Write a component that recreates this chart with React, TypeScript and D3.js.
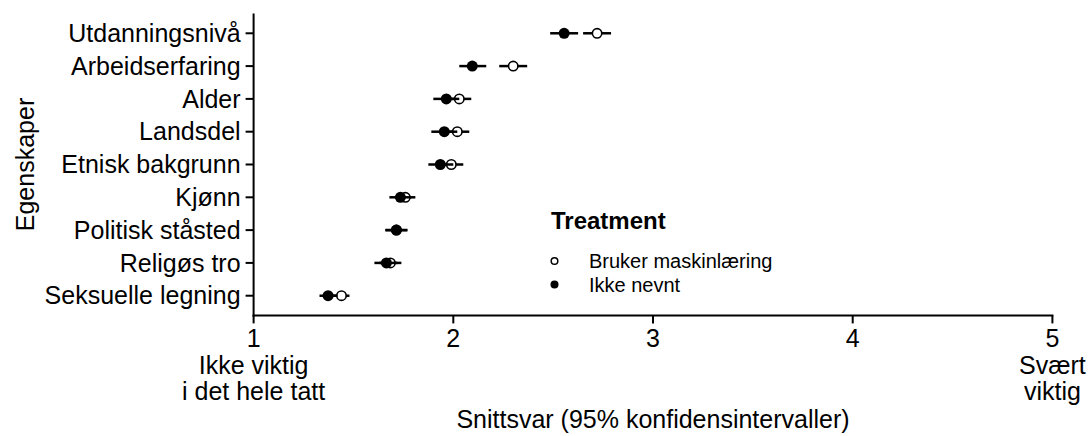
import { useEffect, useRef } from "react";
import * as d3 from "d3";

const WIDTH = 1088;
const HEIGHT = 436;

const categories = [
  "Utdanningsnivå",
  "Arbeidserfaring",
  "Alder",
  "Landsdel",
  "Etnisk bakgrunn",
  "Kjønn",
  "Politisk ståsted",
  "Religøs tro",
  "Seksuelle legning",
];

// "Bruker maskinlæring" (open circles)
const mlMean = [2.72, 2.3, 2.03, 2.02, 1.99, 1.76, 1.715, 1.685, 1.44];
const mlLow = [2.65, 2.23, 1.97, 1.96, 1.93, 1.71, 1.66, 1.63, 1.39];
const mlHigh = [2.79, 2.37, 2.09, 2.08, 2.05, 1.81, 1.77, 1.74, 1.48];

// "Ikke nevnt" (filled circles)
const noneMean = [2.555, 2.095, 1.965, 1.955, 1.935, 1.735, 1.715, 1.665, 1.373];
const noneLow = [2.485, 2.03, 1.9, 1.89, 1.875, 1.68, 1.66, 1.605, 1.33];
const noneHigh = [2.625, 2.165, 2.03, 2.02, 2.0, 1.79, 1.77, 1.72, 1.42];

const xTicks = [1, 2, 3, 4, 5];
const xTickLabels: Record<number, string[]> = {
  1: ["1", "Ikke viktig", "i det hele tatt"],
  2: ["2"],
  3: ["3"],
  4: ["4"],
  5: ["5", "Svært", "viktig"],
};

const seriesNames = ["Bruker maskinlæring", "Ikke nevnt"];

const FONT = "'Liberation Sans', Arial, Helvetica, sans-serif";

export default function App() {
  const svgRef = useRef<SVGSVGElement>(null);

  useEffect(() => {
    const svg = d3.select(svgRef.current);
    svg.selectAll("*").remove();

    const x = d3.scaleLinear().domain([1, 5]).range([253.6, 1052.4]);
    const y = d3.scalePoint().domain(categories).range([13.6, 315.4]).padding(0.6);

    const g = svg.append("g").attr("font-family", FONT);

    const series = [
      { mean: mlMean, low: mlLow, high: mlHigh, fill: "white" },
      { mean: noneMean, low: noneLow, high: noneHigh, fill: "black" },
    ];

    series.forEach((s) => {
      const rows = categories.map((c, i) => ({ c, m: s.mean[i], lo: s.low[i], hi: s.high[i] }));
      g.append("g")
        .selectAll("line")
        .data(rows)
        .join("line")
        .attr("x1", (d) => x(d.lo))
        .attr("x2", (d) => x(d.hi))
        .attr("y1", (d) => y(d.c)!)
        .attr("y2", (d) => y(d.c)!)
        .attr("stroke", "black")
        .attr("stroke-width", 2.5);
      g.append("g")
        .selectAll("circle")
        .data(rows)
        .join("circle")
        .attr("cx", (d) => x(d.m))
        .attr("cy", (d) => y(d.c)!)
        .attr("r", s.fill === "white" ? 4.7 : 5.5)
        .attr("fill", s.fill)
        .attr("stroke", "black")
        .attr("stroke-width", s.fill === "white" ? 1.6 : 0);
    });

    // y axis
    const [y0, y1] = y.range();
    g.append("line")
      .attr("x1", x(1)).attr("x2", x(1))
      .attr("y1", y0).attr("y2", y1 + 1)
      .attr("stroke", "black").attr("stroke-width", 2);
    const yt = g.append("g").selectAll("g").data(categories).join("g")
      .attr("transform", (d) => `translate(0,${y(d)})`);
    yt.append("line").attr("x1", x(1) - 8).attr("x2", x(1)).attr("stroke", "black").attr("stroke-width", 2);
    yt.append("text")
      .attr("x", x(1) - 13)
      .attr("dy", "0.35em")
      .attr("text-anchor", "end")
      .attr("font-size", 25)
      .attr("fill", "black")
      .text((d) => d);

    // x axis
    g.append("line")
      .attr("x1", x(1) - 1).attr("x2", x(5) + 1)
      .attr("y1", y1).attr("y2", y1)
      .attr("stroke", "black").attr("stroke-width", 2);
    const xt = g.append("g").selectAll("g").data(xTicks).join("g")
      .attr("transform", (d) => `translate(${x(d)},${y1})`);
    xt.append("line").attr("y1", 0).attr("y2", 8).attr("stroke", "black").attr("stroke-width", 2);
    xt.append("text")
      .attr("text-anchor", "middle")
      .attr("font-size", 25)
      .attr("fill", "black")
      .selectAll("tspan")
      .data((d) => xTickLabels[d].map((t, i) => ({ t, i })))
      .join("tspan")
      .attr("x", 0)
      .attr("y", (d) => 32 + d.i * 26.5)
      .text((d) => d.t);

    // axis titles
    g.append("text")
      .attr("x", (x(1) + x(5)) / 2)
      .attr("y", 428)
      .attr("text-anchor", "middle")
      .attr("font-size", 25)
      .text("Snittsvar (95% konfidensintervaller)");
    g.append("text")
      .attr("transform", `translate(34,${(y0 + y1) / 2}) rotate(-90)`)
      .attr("text-anchor", "middle")
      .attr("font-size", 25)
      .text("Egenskaper");

    // legend
    const leg = g.append("g").attr("transform", "translate(551,0)");
    leg.append("text")
      .attr("x", 0).attr("y", 229)
      .attr("font-size", 24).attr("font-weight", "bold")
      .text("Treatment");
    const items = leg.selectAll("g.item").data(seriesNames).join("g")
      .attr("class", "item")
      .attr("transform", (_, i) => `translate(0,${261 + i * 23.5})`);
    items.append("circle")
      .attr("cx", 3.5)
      .attr("r", (_, i) => (i === 0 ? 3.3 : 4))
      .attr("fill", (_, i) => (i === 0 ? "white" : "black"))
      .attr("stroke", "black")
      .attr("stroke-width", (_, i) => (i === 0 ? 1.5 : 0));
    items.append("text")
      .attr("x", 38)
      .attr("dy", "0.35em")
      .attr("font-size", 20)
      .text((d) => d);
  }, []);

  return (
    <div style={{ position: "absolute", left: 0, top: 0 }}>
      <svg ref={svgRef} width={WIDTH} height={HEIGHT} style={{ display: "block", background: "white" }} />
    </div>
  );
}
